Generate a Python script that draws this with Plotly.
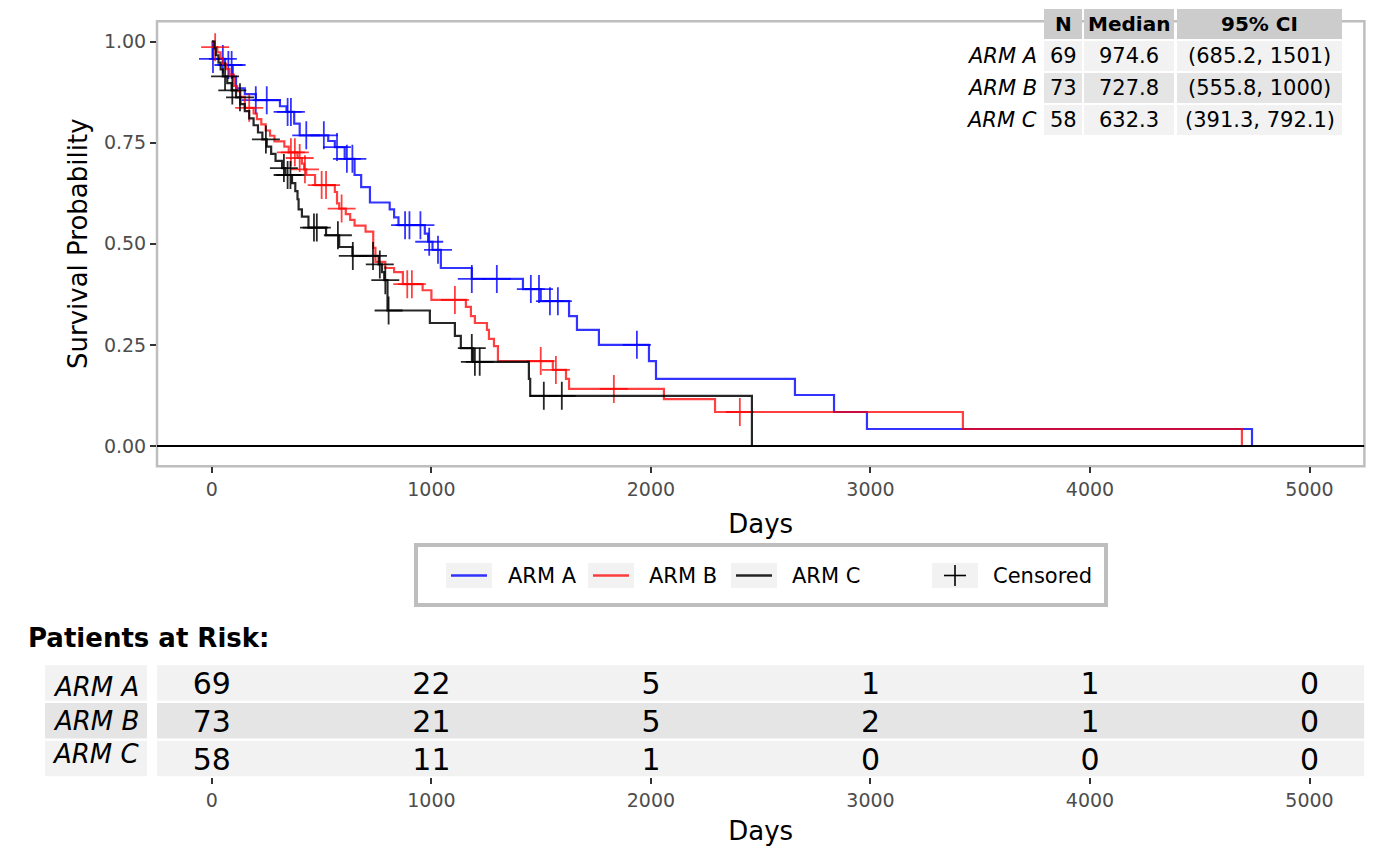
import numpy as np
import plotly.graph_objects as go

# the page body has an 8px margin, so the figure is a bit smaller than the window
W, H = 1384, 850
OFF = 8

ARMS = ["ARM A", "ARM B", "ARM C"]
COLORS = ["rgba(0,0,255,0.8)", "rgba(255,0,0,0.75)", "rgba(0,0,0,0.85)"]

# summary table
N_PAT = [69, 73, 58]
MEDIAN = ["974.6", "727.8", "632.3"]
CI = ["(685.2, 1501)", "(555.8, 1000)", "(391.3, 792.1)"]

# patients at risk
RISK_TIMES = [0, 1000, 2000, 3000, 4000, 5000]
RISK_A = [69, 22, 5, 1, 1, 0]
RISK_B = [73, 21, 5, 2, 1, 0]
RISK_C = [58, 11, 1, 0, 0, 0]

# Kaplan-Meier steps
A_T = [0, 3, 60, 95, 110, 150, 200, 310, 340, 375, 400, 530, 560, 605, 650, 680,
       720, 810, 830, 850, 970, 985, 1005, 1043, 1184, 1417, 1498, 1627, 1663, 1763,
       1991, 2023, 2656, 2834, 2984, 4738]
A_S = [1.0, 0.957, 0.942, 0.913, 0.884, 0.87, 0.855, 0.84, 0.826, 0.797, 0.768, 0.754,
       0.739, 0.71, 0.67, 0.64, 0.602, 0.585, 0.565, 0.546, 0.525, 0.505, 0.485, 0.44,
       0.413, 0.388, 0.358, 0.321, 0.287, 0.25, 0.21, 0.166, 0.126, 0.084, 0.042, 0.0]
A_CENS = [5, 50, 75, 90, 200, 250, 345, 360, 430, 510, 570, 615, 640, 880, 900, 950,
          990, 1030, 1184, 1298, 1453, 1490, 1540, 1576, 1936]

B_T = [0, 8, 25, 40, 50, 65, 80, 100, 115, 130, 150, 190, 205, 225, 245, 265, 285, 330,
       350, 390, 410, 420, 430, 470, 560, 570, 580, 610, 630, 650, 700, 735, 745, 790,
       830, 870, 960, 1000, 1157, 1180, 1198, 1253, 1262, 1285, 1303, 1553, 1613, 1627,
       2059, 2292, 3421, 4692]
B_S = [1.0, 0.986, 0.973, 0.959, 0.945, 0.932, 0.918, 0.89, 0.877, 0.863, 0.836, 0.822,
       0.808, 0.795, 0.78, 0.767, 0.753, 0.74, 0.726, 0.712, 0.698, 0.684, 0.67, 0.645,
       0.628, 0.6, 0.587, 0.573, 0.559, 0.545, 0.53, 0.49, 0.455, 0.44, 0.43, 0.40, 0.385,
       0.361, 0.344, 0.321, 0.304, 0.287, 0.265, 0.247, 0.21, 0.188, 0.166, 0.141, 0.116,
       0.084, 0.042, 0.0]
B_CENS = [15, 170, 360, 378, 400, 424, 500, 520, 591, 890, 911, 1107, 1498, 1567, 1831,
          2405]

C_T = [0, 12, 18, 30, 40, 50, 70, 90, 110, 130, 150, 170, 190, 210, 230, 250, 270, 290,
       320, 335, 365, 380, 390, 395, 410, 440, 520, 580, 640, 760, 775, 785, 800, 993,
       1107, 1134, 1189, 1444, 1450, 2460]
C_S = [1.0, 0.983, 0.966, 0.948, 0.931, 0.914, 0.897, 0.879, 0.862, 0.845, 0.828, 0.81,
       0.793, 0.775, 0.758, 0.74, 0.722, 0.705, 0.687, 0.67, 0.65, 0.63, 0.61, 0.585,
       0.567, 0.54, 0.521, 0.492, 0.47, 0.449, 0.43, 0.41, 0.335, 0.304, 0.272, 0.242,
       0.208, 0.166, 0.124, 0.0]
C_CENS = [60, 93, 128, 246, 328, 345, 358, 465, 478, 574, 642, 734, 765, 790, 805, 1184,
          1198, 1220, 1512, 1594]

FONT = "DejaVu Sans"


def px(x):
    # window pixel -> paper fraction
    return (x - OFF) / W


def py(y):
    return 1 - (y - OFF) / H


def surv_at(times, surv, t):
    idx = np.searchsorted(np.array(times), np.array(t), side="right") - 1
    return np.array(surv)[idx]


def rect(x0, y0, x1, y1, fill, line=None, lw=0, layer="above"):
    return dict(type="rect", xref="paper", yref="paper",
                x0=px(x0), x1=px(x1), y0=py(y1), y1=py(y0),
                fillcolor=fill, line=dict(color=line or fill, width=lw), layer=layer)


def text(x, y, s, size, xanchor="center", bold=False, italic=False, color="black"):
    if bold:
        s = "<b>" + s + "</b>"
    if italic:
        s = "<i>" + s + "</i>"
    return dict(x=px(x), y=py(y), xref="paper", yref="paper", text=s, showarrow=False,
                xanchor=xanchor, yanchor="middle",
                font=dict(family=FONT, size=size, color=color))


def main():
    fig = go.Figure()

    curves = [(A_T, A_S, A_CENS), (B_T, B_S, B_CENS), (C_T, C_S, C_CENS)]
    for (t, s, cens), color, name in zip(curves, COLORS, ARMS):
        fig.add_trace(go.Scatter(
            x=t, y=s, mode="lines", line=dict(color=color, width=2.2, shape="hv"),
            name=name, xaxis="x", yaxis="y", hoverinfo="skip"))
        fig.add_trace(go.Scatter(
            x=cens, y=surv_at(t, s, cens), mode="markers",
            marker=dict(symbol="cross-thin", size=20, line=dict(color=color, width=1.8)),
            name=name + " censored", xaxis="x", yaxis="y", hoverinfo="skip"))

    # patients at risk numbers
    for row, counts in zip([2, 1, 0], [RISK_A, RISK_B, RISK_C]):
        fig.add_trace(go.Scatter(
            x=RISK_TIMES, y=[row] * len(RISK_TIMES), mode="text",
            text=[str(c) for c in counts], textposition="middle center",
            textfont=dict(family=FONT, size=30, color="black"),
            xaxis="x2", yaxis="y2", hoverinfo="skip"))

    shapes = []
    annotations = []

    # main panel border + zero line
    shapes.append(dict(type="rect", xref="paper", yref="paper",
                       x0=px(157), x1=px(1364.4), y0=py(466.2), y1=py(21.3),
                       line=dict(color="#BEBEBE", width=2.5), layer="below"))
    shapes.append(dict(type="line", xref="x", yref="y", x0=-250, x1=5250, y0=0, y1=0,
                       line=dict(color="black", width=2.2), layer="above"))

    # summary table (top right)
    cols = [(1044, 1082), (1084, 1174), (1177, 1342)]
    heads = ["N", "Median", "95% CI"]
    for (x0, x1), h in zip(cols, heads):
        shapes.append(rect(x0, 9, x1, 39, "#CCCCCC"))
        annotations.append(text((x0 + x1) / 2, 24, h, 20, bold=True))
    row_y = [(41, 71), (73, 103), (105, 135)]
    fills = ["#F2F2F2", "#E5E5E5", "#F2F2F2"]
    for i, ((y0, y1), fill) in enumerate(zip(row_y, fills)):
        yc = (y0 + y1) / 2
        annotations.append(text(1039, yc, ARMS[i], 21, xanchor="right", italic=True))
        for (x0, x1), val in zip(cols, [str(N_PAT[i]), MEDIAN[i], CI[i]]):
            shapes.append(rect(x0, y0, x1, y1, fill))
            annotations.append(text((x0 + x1) / 2, yc, val, 21))

    # legend box
    shapes.append(rect(416, 545, 1106, 605, "white", line="#BEBEBE", lw=4))
    keys = [(446, 506, ARMS[0], COLORS[0]), (588, 647, ARMS[1], COLORS[1]),
            (731, 790, ARMS[2], COLORS[2])]
    for kx, tx, name, color in keys:
        shapes.append(rect(kx, 563, kx + 46, 588, "#F2F2F2"))
        shapes.append(dict(type="line", xref="paper", yref="paper",
                           x0=px(kx + 5), x1=px(kx + 41), y0=py(575.5), y1=py(575.5),
                           line=dict(color=color, width=2.4)))
        annotations.append(text(tx, 575.5, name, 21, xanchor="left"))
    shapes.append(rect(932, 563, 978, 588, "#F2F2F2"))
    shapes.append(dict(type="line", xref="paper", yref="paper", x0=px(944), x1=px(966),
                       y0=py(575.5), y1=py(575.5), line=dict(color="black", width=1.6)))
    shapes.append(dict(type="line", xref="paper", yref="paper", x0=px(955), x1=px(955),
                       y0=py(565), y1=py(586), line=dict(color="black", width=1.6)))
    annotations.append(text(991, 575.5, "Censored", 21, xanchor="left"))

    # patients at risk table (rows sit 0.1 above their number so digits look centred)
    shift = 0.1
    annotations.append(text(26, 638, "Patients at Risk:", 26, xanchor="left", bold=True))
    for row, fill, name, dy in zip([2, 1, 0], fills, ARMS, [-0.1, 0.0, 0.12]):
        yc = row + shift
        shapes.append(dict(type="rect", xref="x2", yref="y2", x0=-250, x1=5250,
                           y0=yc - 0.47, y1=yc + 0.47, fillcolor=fill,
                           line=dict(width=0), layer="below"))
        shapes.append(dict(type="rect", xref="paper", yref="y2", x0=px(45), x1=px(147),
                           y0=yc - 0.47, y1=yc + 0.47, fillcolor=fill,
                           line=dict(width=0), layer="below"))
        annotations.append(dict(x=px(96), y=yc + dy, xref="paper", yref="y2",
                                text="<i>" + name + "</i>", showarrow=False,
                                xanchor="center", yanchor="middle",
                                font=dict(family=FONT, size=26, color="black")))

    axis_common = dict(range=[-250, 5250], tickvals=RISK_TIMES, ticks="outside",
                       ticklen=6, tickwidth=2, tickcolor="#333333",
                       tickfont=dict(family=FONT, size=19, color="#4D4D4D"),
                       showgrid=False, zeroline=False, showline=False, automargin=False,
                       domain=[px(157), px(1364.4)])

    fig.update_layout(
        width=W, height=H,
        margin=dict(l=0, r=0, t=0, b=0),
        paper_bgcolor="white", plot_bgcolor="white",
        showlegend=False,
        font=dict(family=FONT),
        xaxis=dict(axis_common, anchor="y",
                   title=dict(text="Days", font=dict(family=FONT, size=26, color="black"),
                              standoff=15)),
        yaxis=dict(range=[-0.05, 1.05], tickvals=[0, 0.25, 0.5, 0.75, 1.0],
                   tickformat=".2f", ticks="outside", ticklen=6, tickwidth=2,
                   tickcolor="#333333",
                   tickfont=dict(family=FONT, size=19, color="#4D4D4D"),
                   showgrid=False, zeroline=False, showline=False, automargin=False,
                   domain=[py(466.2), py(21.3)], anchor="x",
                   title=dict(text="Survival Probability",
                              font=dict(family=FONT, size=26, color="black"), standoff=8)),
        xaxis2=dict(axis_common, anchor="y2",
                    title=dict(text="Days", font=dict(family=FONT, size=26, color="black"),
                               standoff=11)),
        yaxis2=dict(range=[-0.5 + shift, 2.5 + shift], visible=False,
                    domain=[py(777.3), py(664)], anchor="x2"),
        shapes=shapes,
        annotations=annotations,
    )

    fig.write_html("out.html")


if __name__ == "__main__":
    main()
